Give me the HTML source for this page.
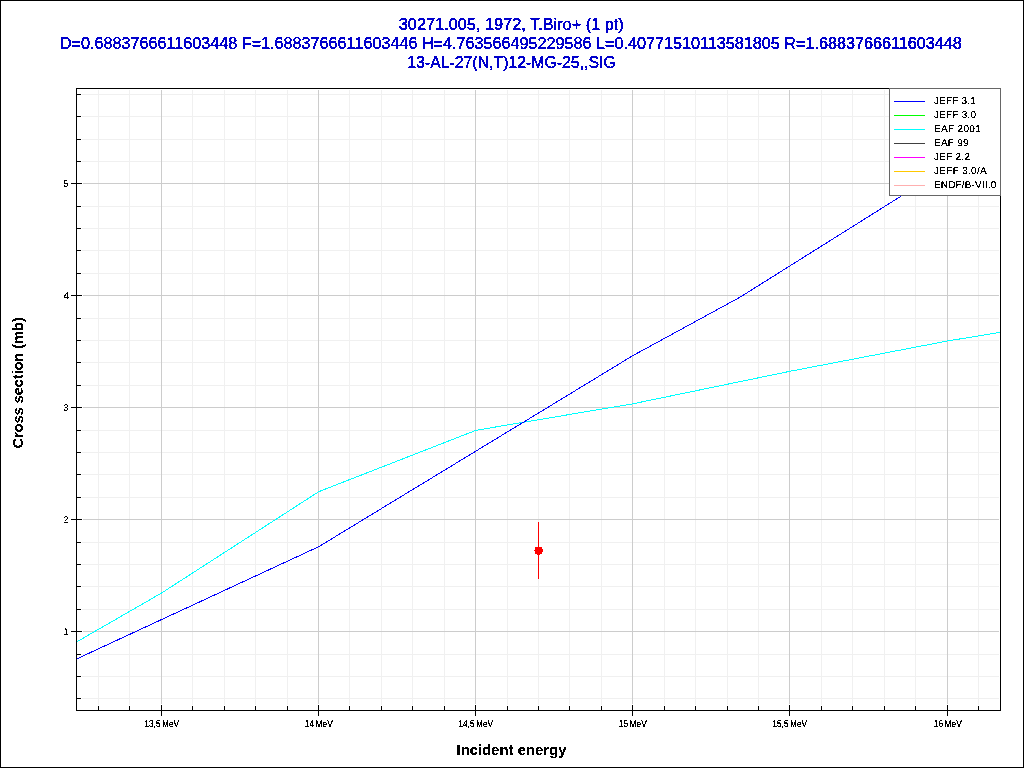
<!DOCTYPE html>
<html lang="en"><head><meta charset="utf-8"><title>30271.005, 1972, T.Biro+ (1 pt)</title>
<style>html,body{margin:0;padding:0;background:#fff;overflow:hidden}svg{display:block}text{font-family:"Liberation Sans",sans-serif}.t{font-size:16px;fill:#0000cc;stroke:#0000cc;stroke-width:0.4px;text-anchor:middle}.ax{font-size:14px;font-weight:bold;fill:#000;text-anchor:middle}.tk{text-rendering:geometricPrecision;font-size:10px;fill:#000;word-spacing:-1px}.lg{text-rendering:geometricPrecision;font-size:10px;fill:#000}</style></head><body>
<svg width="1024" height="768" viewBox="0 0 1024 768">
<defs><filter id="al" x="0" y="0" width="100%" height="100%" filterUnits="userSpaceOnUse" primitiveUnits="userSpaceOnUse" color-interpolation-filters="sRGB"><feComponentTransfer><feFuncA type="discrete" tableValues="0 1 1"/></feComponentTransfer></filter><filter id="als" x="0" y="0" width="100%" height="100%" filterUnits="userSpaceOnUse" primitiveUnits="userSpaceOnUse" color-interpolation-filters="sRGB"><feComponentTransfer><feFuncA type="discrete" tableValues="0 0 0 1 1 1 1 1"/></feComponentTransfer></filter><filter id="alt" x="0" y="0" width="100%" height="100%" filterUnits="userSpaceOnUse" primitiveUnits="userSpaceOnUse" color-interpolation-filters="sRGB"><feComponentTransfer><feFuncA type="discrete" tableValues="0 1"/></feComponentTransfer></filter><filter id="alb" x="0" y="0" width="100%" height="100%" filterUnits="userSpaceOnUse" primitiveUnits="userSpaceOnUse" color-interpolation-filters="sRGB"><feComponentTransfer><feFuncA type="discrete" tableValues="0 0 0 0 1 1 1 1 1"/></feComponentTransfer></filter></defs>
<rect x="0" y="0" width="1024" height="768" fill="#fff"/>
<g shape-rendering="crispEdges">
<rect x="98" y="90" width="1" height="615" fill="#f0f0f0"/>
<rect x="129" y="90" width="1" height="615" fill="#f0f0f0"/>
<rect x="192" y="90" width="1" height="615" fill="#f0f0f0"/>
<rect x="224" y="90" width="1" height="615" fill="#f0f0f0"/>
<rect x="255" y="90" width="1" height="615" fill="#f0f0f0"/>
<rect x="287" y="90" width="1" height="615" fill="#f0f0f0"/>
<rect x="349" y="90" width="1" height="615" fill="#f0f0f0"/>
<rect x="381" y="90" width="1" height="615" fill="#f0f0f0"/>
<rect x="412" y="90" width="1" height="615" fill="#f0f0f0"/>
<rect x="444" y="90" width="1" height="615" fill="#f0f0f0"/>
<rect x="507" y="90" width="1" height="615" fill="#f0f0f0"/>
<rect x="538" y="90" width="1" height="615" fill="#f0f0f0"/>
<rect x="569" y="90" width="1" height="615" fill="#f0f0f0"/>
<rect x="601" y="90" width="1" height="615" fill="#f0f0f0"/>
<rect x="664" y="90" width="1" height="615" fill="#f0f0f0"/>
<rect x="695" y="90" width="1" height="615" fill="#f0f0f0"/>
<rect x="727" y="90" width="1" height="615" fill="#f0f0f0"/>
<rect x="758" y="90" width="1" height="615" fill="#f0f0f0"/>
<rect x="821" y="90" width="1" height="615" fill="#f0f0f0"/>
<rect x="852" y="90" width="1" height="615" fill="#f0f0f0"/>
<rect x="884" y="90" width="1" height="615" fill="#f0f0f0"/>
<rect x="915" y="90" width="1" height="615" fill="#f0f0f0"/>
<rect x="978" y="90" width="1" height="615" fill="#f0f0f0"/>
<rect x="82" y="94" width="917" height="1" fill="#f0f0f0"/>
<rect x="82" y="116" width="917" height="1" fill="#f0f0f0"/>
<rect x="82" y="139" width="917" height="1" fill="#f0f0f0"/>
<rect x="82" y="161" width="917" height="1" fill="#f0f0f0"/>
<rect x="82" y="206" width="917" height="1" fill="#f0f0f0"/>
<rect x="82" y="228" width="917" height="1" fill="#f0f0f0"/>
<rect x="82" y="250" width="917" height="1" fill="#f0f0f0"/>
<rect x="82" y="273" width="917" height="1" fill="#f0f0f0"/>
<rect x="82" y="318" width="917" height="1" fill="#f0f0f0"/>
<rect x="82" y="340" width="917" height="1" fill="#f0f0f0"/>
<rect x="82" y="362" width="917" height="1" fill="#f0f0f0"/>
<rect x="82" y="385" width="917" height="1" fill="#f0f0f0"/>
<rect x="82" y="430" width="917" height="1" fill="#f0f0f0"/>
<rect x="82" y="452" width="917" height="1" fill="#f0f0f0"/>
<rect x="82" y="474" width="917" height="1" fill="#f0f0f0"/>
<rect x="82" y="497" width="917" height="1" fill="#f0f0f0"/>
<rect x="82" y="542" width="917" height="1" fill="#f0f0f0"/>
<rect x="82" y="564" width="917" height="1" fill="#f0f0f0"/>
<rect x="82" y="586" width="917" height="1" fill="#f0f0f0"/>
<rect x="82" y="609" width="917" height="1" fill="#f0f0f0"/>
<rect x="82" y="654" width="917" height="1" fill="#f0f0f0"/>
<rect x="82" y="676" width="917" height="1" fill="#f0f0f0"/>
<rect x="82" y="698" width="917" height="1" fill="#f0f0f0"/>
<rect x="161" y="90" width="1" height="614" fill="#cccccc"/>
<rect x="318" y="90" width="1" height="614" fill="#cccccc"/>
<rect x="475" y="90" width="1" height="614" fill="#cccccc"/>
<rect x="632" y="90" width="1" height="614" fill="#cccccc"/>
<rect x="789" y="90" width="1" height="614" fill="#cccccc"/>
<rect x="947" y="90" width="1" height="614" fill="#cccccc"/>
<rect x="83" y="183" width="916" height="1" fill="#cccccc"/>
<rect x="83" y="295" width="916" height="1" fill="#cccccc"/>
<rect x="83" y="407" width="916" height="1" fill="#cccccc"/>
<rect x="83" y="519" width="916" height="1" fill="#cccccc"/>
<rect x="83" y="631" width="916" height="1" fill="#cccccc"/>
</g>
<clipPath id="cp"><rect x="77" y="89" width="923" height="621"/></clipPath>
<g clip-path="url(#cp)" shape-rendering="crispEdges" fill="none" stroke-width="1">
<polyline stroke="#00ffff" points="76.5,642.0 161.9,592.8 318.9,491.6 476,430.3 632.9,403.8 789.9,371.3 947.9,340.9 1000.5,332.3"/>
<polyline stroke="#0000ff" points="76.5,659.0 318.9,546.6 632.9,355.6 740,297.2 902.4,195.3 1000.5,133.6"/>
</g>
<g shape-rendering="crispEdges" fill="#ff0000">
<rect x="538" y="522" width="1" height="57"/>
<rect x="535" y="547" width="7" height="7"/>
<rect x="542" y="549" width="1" height="3"/>
<rect x="537" y="554" width="3" height="1"/>
<rect x="534" y="550" width="1" height="1"/>
</g>
<g shape-rendering="crispEdges" fill="#000">
<rect x="76" y="88" width="925" height="1"/>
<rect x="76" y="710" width="925" height="1"/>
<rect x="76" y="88" width="1" height="623"/>
<rect x="1000" y="88" width="1" height="623"/>
<rect x="98" y="706" width="1" height="4"/>
<rect x="129" y="706" width="1" height="4"/>
<rect x="161" y="705" width="1" height="11"/>
<rect x="192" y="706" width="1" height="4"/>
<rect x="224" y="706" width="1" height="4"/>
<rect x="255" y="706" width="1" height="4"/>
<rect x="287" y="706" width="1" height="4"/>
<rect x="318" y="705" width="1" height="11"/>
<rect x="349" y="706" width="1" height="4"/>
<rect x="381" y="706" width="1" height="4"/>
<rect x="412" y="706" width="1" height="4"/>
<rect x="444" y="706" width="1" height="4"/>
<rect x="475" y="705" width="1" height="11"/>
<rect x="507" y="706" width="1" height="4"/>
<rect x="538" y="706" width="1" height="4"/>
<rect x="569" y="706" width="1" height="4"/>
<rect x="601" y="706" width="1" height="4"/>
<rect x="632" y="705" width="1" height="11"/>
<rect x="664" y="706" width="1" height="4"/>
<rect x="695" y="706" width="1" height="4"/>
<rect x="727" y="706" width="1" height="4"/>
<rect x="758" y="706" width="1" height="4"/>
<rect x="789" y="705" width="1" height="11"/>
<rect x="821" y="706" width="1" height="4"/>
<rect x="852" y="706" width="1" height="4"/>
<rect x="884" y="706" width="1" height="4"/>
<rect x="915" y="706" width="1" height="4"/>
<rect x="947" y="705" width="1" height="11"/>
<rect x="978" y="706" width="1" height="4"/>
<rect x="77" y="94" width="4" height="1"/>
<rect x="77" y="116" width="4" height="1"/>
<rect x="77" y="139" width="4" height="1"/>
<rect x="77" y="161" width="4" height="1"/>
<rect x="71" y="183" width="11" height="1"/>
<rect x="77" y="206" width="4" height="1"/>
<rect x="77" y="228" width="4" height="1"/>
<rect x="77" y="250" width="4" height="1"/>
<rect x="77" y="273" width="4" height="1"/>
<rect x="71" y="295" width="11" height="1"/>
<rect x="77" y="318" width="4" height="1"/>
<rect x="77" y="340" width="4" height="1"/>
<rect x="77" y="362" width="4" height="1"/>
<rect x="77" y="385" width="4" height="1"/>
<rect x="71" y="407" width="11" height="1"/>
<rect x="77" y="430" width="4" height="1"/>
<rect x="77" y="452" width="4" height="1"/>
<rect x="77" y="474" width="4" height="1"/>
<rect x="77" y="497" width="4" height="1"/>
<rect x="71" y="519" width="11" height="1"/>
<rect x="77" y="542" width="4" height="1"/>
<rect x="77" y="564" width="4" height="1"/>
<rect x="77" y="586" width="4" height="1"/>
<rect x="77" y="609" width="4" height="1"/>
<rect x="71" y="631" width="11" height="1"/>
<rect x="77" y="654" width="4" height="1"/>
<rect x="77" y="676" width="4" height="1"/>
<rect x="77" y="698" width="4" height="1"/>
<rect x="0" y="0" width="1024" height="1"/><rect x="0" y="767" width="1024" height="1"/>
<rect x="0" y="0" width="1" height="768"/><rect x="1023" y="0" width="1" height="768"/>
</g>
<g shape-rendering="crispEdges">
<rect x="889.5" y="88.5" width="111" height="107" fill="#fff" stroke="#666666" stroke-width="1"/>
<rect x="894" y="101" width="31" height="1" fill="#0000ff"/>
<rect x="894" y="115" width="31" height="1" fill="#00ff00"/>
<rect x="894" y="129" width="31" height="1" fill="#00ffff"/>
<rect x="894" y="143" width="31" height="1" fill="#404040"/>
<rect x="894" y="157" width="31" height="1" fill="#ff00ff"/>
<rect x="894" y="171" width="31" height="1" fill="#ffc800"/>
<rect x="894" y="185" width="31" height="1" fill="#ffafaf"/>
</g>
<g filter="url(#als)">
<text class="lg" x="934" y="104" textLength="41.7" lengthAdjust="spacing">JEFF 3.1</text>
<text class="lg" x="934" y="118" textLength="42" lengthAdjust="spacing">JEFF 3.0</text>
<text class="lg" x="934" y="132" textLength="46.8" lengthAdjust="spacing">EAF 2001</text>
<text class="lg" x="934" y="146" textLength="34.6" lengthAdjust="spacing">EAF 99</text>
<text class="lg" x="934" y="160" textLength="36" lengthAdjust="spacing">JEF 2.2</text>
<text class="lg" x="934" y="174" textLength="52.7" lengthAdjust="spacing">JEFF 3.0/A</text>
<text class="lg" x="934" y="188" textLength="62.2" lengthAdjust="spacing">ENDF/B-VII.0</text>
</g>
<g filter="url(#alt)">
<text class="t" x="511.3" y="30" textLength="225" lengthAdjust="spacingAndGlyphs">30271.005, 1972, T.Biro+ (1 pt)</text>
<text class="t" x="510.8" y="49" textLength="902" lengthAdjust="spacingAndGlyphs">D=0.6883766611603448 F=1.6883766611603446 H=4.763566495229586 L=0.40771510113581805 R=1.6883766611603448</text>
<text class="t" x="511.5" y="68" textLength="208.5" lengthAdjust="spacingAndGlyphs">13-AL-27(N,T)12-MG-25,,SIG</text>
</g>
<g filter="url(#alb)">
<text class="ax" x="511.5" y="755" textLength="110" lengthAdjust="spacingAndGlyphs">Incident energy</text>
<text class="ax" transform="translate(23,382.8) rotate(-90)" x="0" y="0" textLength="131" lengthAdjust="spacingAndGlyphs">Cross section (mb)</text>
</g>
<g filter="url(#al)">
<text class="tk" x="161.75" y="727" text-anchor="middle" textLength="34.8" lengthAdjust="spacingAndGlyphs">13,5 MeV</text>
<text class="tk" x="318.75" y="727" text-anchor="middle" textLength="28" lengthAdjust="spacingAndGlyphs">14 MeV</text>
<text class="tk" x="475.75" y="727" text-anchor="middle" textLength="34.8" lengthAdjust="spacingAndGlyphs">14,5 MeV</text>
<text class="tk" x="632.75" y="727" text-anchor="middle" textLength="28" lengthAdjust="spacingAndGlyphs">15 MeV</text>
<text class="tk" x="789.75" y="727" text-anchor="middle" textLength="34.8" lengthAdjust="spacingAndGlyphs">15,5 MeV</text>
<text class="tk" x="947.75" y="727" text-anchor="middle" textLength="28" lengthAdjust="spacingAndGlyphs">16 MeV</text>
</g>
<g filter="url(#als)">
<text class="tk" x="68.3" y="187" text-anchor="end" textLength="4.5" lengthAdjust="spacingAndGlyphs">5</text>
<text class="tk" x="69.2" y="299" text-anchor="end" textLength="5.6" lengthAdjust="spacingAndGlyphs">4</text>
<text class="tk" x="68.3" y="411" text-anchor="end" textLength="4.5" lengthAdjust="spacingAndGlyphs">3</text>
<text class="tk" x="68.3" y="523" text-anchor="end" textLength="4.5" lengthAdjust="spacingAndGlyphs">2</text>
<text class="tk" x="68.3" y="635" text-anchor="end" textLength="4.5" lengthAdjust="spacingAndGlyphs">1</text>
</g>
</svg></body></html>
